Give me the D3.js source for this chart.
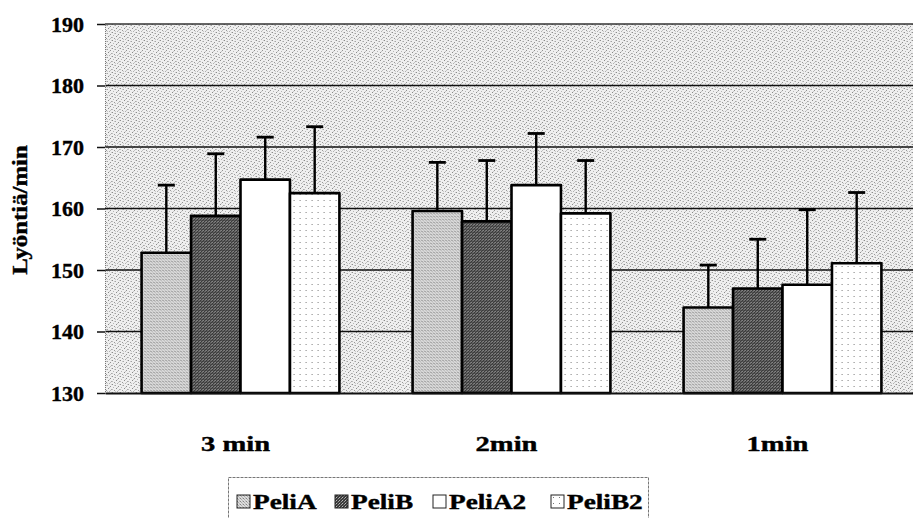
<!DOCTYPE html>
<html>
<head>
<meta charset="utf-8">
<script src="https://cdn.jsdelivr.net/npm/d3@7"></script>
<style>
  html, body { margin: 0; padding: 0; background: #fff; }
  svg { display: block; }
  text { font-family: "Liberation Serif", "Times New Roman", serif; font-weight: bold; fill: #000; stroke: #000; stroke-width: 0.4px; }
</style>
</head>
<body>
<svg id="chart" width="913" height="518"></svg>
<script>
// ---- data ----
const categories = ["3 min", "2min", "1min"];
const seriesNames = ["PeliA", "PeliB", "PeliA2", "PeliB2"];
const peliA  = [152.8, 159.6, 143.9];
const peliB  = [158.8, 157.9, 147.0];
const peliA2 = [164.7, 163.8, 147.6];
const peliB2 = [162.5, 159.2, 151.1];
const sdA  = [11.0, 7.9, 6.9];
const sdB  = [10.1, 9.9, 8.0];
const sdA2 = [6.9, 8.4, 12.2];
const sdB2 = [10.8, 8.6, 11.5];
const yTicks = [130, 140, 150, 160, 170, 180, 190];
const yTitle = "Lyöntiä/min";

const means = [peliA, peliB, peliA2, peliB2];
const sds = [sdA, sdB, sdA2, sdB2];

const svg = d3.select("#chart");
const defs = svg.append("defs");

// ---- texture patterns (scan-like halftones) ----
function pixPattern(id, size, base, dots) {
  const p = defs.append("pattern").attr("id", id).attr("patternUnits", "userSpaceOnUse")
    .attr("width", size).attr("height", size);
  p.append("rect").attr("width", size).attr("height", size).attr("fill", base);
  dots.forEach(d => p.append("rect").attr("x", d[0]).attr("y", d[1]).attr("width", 1).attr("height", 1).attr("fill", d[2]));
}
pixPattern("bgPat", 8, "#efefef", [
  [0,0,"#8c8c8c"],[3,1,"#a4a4a4"],[6,2,"#909090"],[1,3,"#b4b4b4"],[4,4,"#8a8a8a"],
  [7,5,"#a8a8a8"],[2,6,"#989898"],[5,7,"#b0b0b0"],[2,1,"#c8c8c8"],[6,6,"#c4c4c4"],
  [0,5,"#bdbdbd"],[5,3,"#c6c6c6"],[7,0,"#cccccc"],[3,7,"#cacaca"]]);
pixPattern("patA", 3, "#dcdcdc", [[0,0,"#858585"],[1,1,"#ababab"],[2,2,"#bcbcbc"],[2,0,"#cacaca"]]);
pixPattern("patB", 3, "#3a3a3a", [[0,0,"#9a9a9a"],[2,1,"#6a6a6a"],[1,2,"#b8b8b8"]]);
pixPattern("patB2", 6, "#ffffff", [[2,2,"#7a7a7a"]]);
const fills = ["url(#patA)", "url(#patB)", "#ffffff", "url(#patB2)"];

// ---- scales ----
const x0 = d3.scaleBand().domain(categories).range([105, 918]).paddingInner(0.27).paddingOuter(0.135);
const x1 = d3.scaleBand().domain(seriesNames).range([0, x0.bandwidth()]);
const y = d3.scaleLinear().domain([130, 190]).range([393, 24]);

// plot background
svg.append("rect").attr("x", 105).attr("y", y(190)).attr("width", 913 - 105).attr("height", y(130) - y(190))
  .attr("fill", "url(#bgPat)");

// gridlines
svg.append("g").selectAll("line").data(yTicks.filter(t => t > 130 && t < 190)).join("line")
  .attr("x1", 105).attr("x2", 918).attr("y1", d => y(d)).attr("y2", d => y(d))
  .attr("stroke", "#111").attr("stroke-width", 1.6);
svg.append("line").attr("x1", 105).attr("x2", 918).attr("y1", y(190)).attr("y2", y(190))
  .attr("stroke", "#333").attr("stroke-width", 1.4);

// left axis
const yAxis = d3.axisLeft(y).tickValues(yTicks).tickSize(8).tickPadding(13).tickFormat(d3.format("d"));
const gy = svg.append("g").attr("transform", "translate(105,0)").call(yAxis);
gy.select(".domain").attr("stroke", "#777").attr("stroke-width", 1).attr("stroke-dasharray", "1,1");
gy.selectAll(".tick line").attr("stroke", "#111").attr("stroke-width", 1.5);
gy.selectAll(".tick text").attr("font-size", 22).attr("font-family", "Liberation Serif, serif")
  .attr("font-weight", "bold").attr("fill", "#000").attr("dy", "0.33em");

// bars
const groups = svg.append("g").selectAll("g").data(categories).join("g")
  .attr("transform", d => `translate(${x0(d)},0)`);
seriesNames.forEach((s, si) => {
  groups.append("rect")
    .attr("x", x1(s)).attr("width", x1.bandwidth())
    .attr("y", (c, ci) => y(means[si][ci]))
    .attr("height", (c, ci) => y(130) - y(means[si][ci]))
    .attr("fill", fills[si]).attr("stroke", "#000").attr("stroke-width", 2.6)
    .attr("stroke-linejoin", "round");
});
// error bars
seriesNames.forEach((s, si) => {
  const cx = x1(s) + x1.bandwidth() / 2;
  groups.append("line")
    .attr("x1", cx).attr("x2", cx)
    .attr("y1", (c, ci) => y(means[si][ci]))
    .attr("y2", (c, ci) => y(means[si][ci] + sds[si][ci]))
    .attr("stroke", "#000").attr("stroke-width", 2.4);
  groups.append("line")
    .attr("x1", cx - 8.5).attr("x2", cx + 8.5)
    .attr("y1", (c, ci) => y(means[si][ci] + sds[si][ci]))
    .attr("y2", (c, ci) => y(means[si][ci] + sds[si][ci]))
    .attr("stroke", "#000").attr("stroke-width", 2.8);
});

// bottom axis
const xAxis = d3.axisBottom(x0).tickSize(0).tickPadding(0);
const gx = svg.append("g").attr("transform", `translate(0,${y(130)})`).call(xAxis);
gx.select(".domain").attr("stroke", "#111").attr("stroke-width", 2);
gx.selectAll(".tick text").attr("font-size", 22).attr("font-family", "Liberation Serif, serif")
  .attr("font-weight", "bold").attr("fill", "#000")
  .attr("y", 0).attr("dy", 0)
  .attr("transform", "translate(-5,58) scale(1.3,1)");

// y title
svg.append("text").attr("transform", "translate(27,210) rotate(-90) scale(1.18,1)")
  .attr("text-anchor", "middle").attr("font-size", 21).text(yTitle);

// legend
const legX = [237, 335, 433, 551];
svg.append("rect").attr("x", 228.5).attr("y", 477.5).attr("width", 420).attr("height", 60)
  .attr("fill", "#fff").attr("stroke", "#777").attr("stroke-width", 1).attr("stroke-dasharray", "3,1");
const leg = svg.append("g").selectAll("g").data(seriesNames).join("g")
  .attr("transform", (d, i) => `translate(${legX[i]},495)`);
leg.append("rect").attr("width", 13).attr("height", 13)
  .attr("fill", (d, i) => fills[i]).attr("stroke", "#222").attr("stroke-width", 1);
leg.append("text").attr("transform", "translate(16,14) scale(1.24,1)").attr("font-size", 22).text(d => d);
</script>
</body>
</html>
